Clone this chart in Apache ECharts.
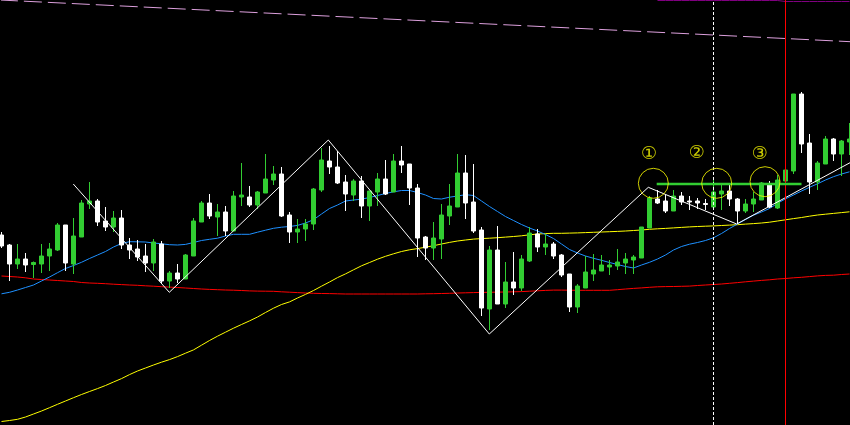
<!DOCTYPE html>
<html><head><meta charset="utf-8">
<script src="https://cdn.jsdelivr.net/npm/echarts@6/dist/echarts.min.js"></script>
<style>html,body{margin:0;padding:0;background:#000;overflow:hidden}#c{width:850px;height:425px}</style>
</head><body><div id="c"></div>
<script>
// Candle prices (arbitrary price units)
const openP = [190,180,161,166,160.5,161,169,175,200,161,
188,221,224,204,198,207,180,176,169,162,
181,144,152,146,169,203,222,208,213,194,
228,228,220,232,245,251,210,193,196,201,
235,264,258,243,230,244,219,233,246,233,
264,261,237,188,177,186,209,218,252,223,
195,116,175,121,143,137,164,191,178,181,
170,151,118,137,151,154,158,159,162,165,
167,197,226,224,214,229,224,224,221.5,218,
231,234,226,214,221,225,240,217,244,254,
331,282,243,261,286,271,283];
const closeP = [179,161,166,160,162.5,169,176,200,162,189,
222,224,203,198,207,180,175,168,162,183,
144,152,146,170,204,222,209,213,194,229,
230,220,233,246,251,209,193,196,201,236,
265,258,242,231,244,219,234,246,231,264,
260,237,187,177,187,210,219,252,222,194,
117,175,121,143,137,166,192,178,181,169,
150,118,139,153,155,160,160,163,166,168,
198,227,222,214,229,223,223,222,220.5,233,
234,226,214,221,226,242,218,245,255,331,
281,243,262,286,271,284,286];
const lowP = [177,144,156,153,147,152,154,174,154,151,
188,216,199,194,193,176,166,164,153,154,
141,137,142,146,169,203,206,189,189,194,
219,218,216,232,240,208,182,182,184,195,
233,251,241,214,224,207,204,219,230,233,
252,220,168,165,165,166,200,218,206,192,
109,95,121,117,130,134,163,173,170,166,
148,113,112,137,144,154,150,155,151,151,
167,197,221,212,214,220,215,216,215,218,
215,219,201,212,213,225,217,216,244,251,
272,231,235,261,264,249,270];
const highP = [193,181,181,172,163.5,181,182,202,200,207,
225,243,226,218,214,215,187,185,181,186,
184,154,161,171,207,224,231,221,219,234,
262,239,234,271,259,258,213,206,206,237,
277,279,274,250,246,249,234,252,265,271,
279,261,241,189,203,221,241,271,270,261,
198,179,199,163,173,170,198,196,191,183,
171,151,141,169,171,170,165,176,172,170,
198,229,235,230,235,233,229,227,226,245,
240,240,227,226,233,243,244,250,255,331,
333,291,264,289,287,285,302];

// Moving averages read per candle
const maBlue = [131.2,132.7,135,137.5,140,144,148,152.3,156.5,159.5,
162.7,166.5,170,173.5,178,181.5,183.3,183.2,183,182,
181.2,180.3,180,180.6,182.5,184.5,185.7,186.8,189,190.7,
190.7,190.7,192.8,194.8,196.7,197.8,198.5,199.6,202,205.3,
211,216.5,220,224,225,225.8,227.5,229.5,231.5,233.2,
234.5,234.5,232.5,230,226.5,226,227.8,229,230.3,229.5,
224,218.5,213.5,208.5,204.5,200.5,197,194,190.5,186.5,
181,175.5,172,169,166.7,164.7,162.5,160.5,158.5,157,
160,162.7,166,170,175,178.5,180.8,182.5,184.5,187.2,
191.5,196.5,201,205.5,209.8,213,216.5,221.7,226.2,230,
234,237.7,241.2,245,248.3,251,253.2];
const maYellow = [3.5,4.5,5.7,8,11,14,17.3,20.7,24,27.3,
30.5,33.5,36.4,39.5,43,46.4,50.4,54,57,60,
62.8,65.4,68.4,71.8,75.1,79.8,84.5,88.8,92.8,96.8,
100.5,104.1,108,112.5,116.8,120.5,123.1,127,130.6,134.5,
138.8,143,147.4,151.1,155.2,159.2,162.5,165.8,168.7,171.2,
173.5,175.2,176.4,177.8,179.3,181,182.6,184,185,185.9,
186.4,186.8,187.3,187.9,188.5,189.2,190.2,191,191.4,191.7,
191.7,191.9,192.1,192.4,192.7,193,193.3,193.6,194,194.5,
195,195.7,196.2,196.6,197.1,197.6,198.1,198.5,198.8,199.1,
199.5,199.9,200.3,200.9,201.4,202,202.8,204,205.2,206.4,
207.5,208.8,210,210.8,211.6,212.4,213.2];
const maRed = [149,148.5,148,147.2,146,145.5,145,144.5,144,143.5,
142.5,142,141.7,141.3,140.8,140.4,140,139.7,139.2,138.8,
138.3,137.9,137.5,137,136.5,136,135.6,135.3,135,134.8,
134.5,134.1,133.9,133.8,133.7,133.2,132.8,132.4,132,131.7,
131.5,131.4,131.2,131,131,131,131,131,131,131,
131,131,131,131.2,131.3,131.5,131.7,132,132.2,132.4,
132.6,132.7,132.9,133,133.2,133.4,133.8,134.2,134.6,134.9,
134.9,134.8,134.7,134.7,134.7,134.7,134.7,135.3,136,136.6,
137.1,137.7,138.2,138.4,138.5,138.7,138.9,139.5,140,140.5,
141,141.7,142.4,143.2,143.9,144.6,145.2,146,146.5,147.2,
147.7,148.4,149.1,149.6,149.8,150.5,151];
// upper band visible only from candle 82 onward
const upperBandStart = 82;
const upperBandVisible = [424.5,424.5,424.5,424.5,424.5,424.5,424.5,424.5,424.5,424.5,424.5,424.5,424.5,424.5,424.5,424.5,
423.5,423.5,423.5,423.5,423.5,423.5,423.5,423.5,423.5];

// Drawn objects (x in candle index units, y in price units)
const zigzagIdx = [8.975,20.975,40.85,60.975,80.85,91.9,106.3];
const zigzagVal = [241,132.7,285,91,237.7,201,263.3];
const trendIdx = [-0.2,106.1];
const trendVal = [425,383.3];
const levelIdx = [81.9,100.0];
const levelVal = [241,241];
const circleIdx = [81.48,89.4,95.44];
const circleVal = [241.7,241.7,243.3];
const labelIdx = [80.94,86.9,94.8];
const labelVal = [271,271.7,270.7];
const labelText = ['①','②','③'];
const vDashedIdx = 89;
const vRedIdx = 98;

const cats = openP.map((_, i) => String(i));
const ohlc = openP.map((o, i) => [o, closeP[i], lowP[i], highP[i]]);
const upperBand = cats.map((_, i) => i >= upperBandStart ? upperBandVisible[i - upperBandStart] : null);
const pairs = (xs, ys) => xs.map((x, i) => [x, ys[i]]);

const chart = echarts.init(document.getElementById('c'), null, {renderer: 'canvas'});
chart.setOption({
  backgroundColor: '#000000',
  animation: false,
  grid: {left: 1.5, top: 0, right: 0.5, bottom: 0, containLabel: false},
  xAxis: [
    {type: 'category', data: cats, show: false, boundaryGap: false},
    {type: 'value', min: 0, max: 106, show: false}
  ],
  yAxis: {type: 'value', min: 0, max: 425, show: false, splitLine: {show: false}},
  series: [
    {type: 'line', data: maRed, showSymbol: false, lineStyle: {color: '#ff0000', width: 1}, z: 1},
    {type: 'line', data: maYellow, showSymbol: false, lineStyle: {color: '#ffff00', width: 1}, z: 1},
    {type: 'line', data: maBlue, showSymbol: false, lineStyle: {color: '#1e90ff', width: 1}, z: 1},
    {type: 'line', data: upperBand, showSymbol: false, connectNulls: false, lineStyle: {color: '#800080', width: 1}, z: 1},
    {type: 'line', xAxisIndex: 1, data: pairs(trendIdx, trendVal), showSymbol: false, clip: false,
      lineStyle: {color: '#dda0dd', width: 1, type: [18, 6]}, z: 1},
    {type: 'candlestick', data: ohlc, barWidth: 4, z: 3,
      itemStyle: {color: '#32cd32', color0: '#ffffff', borderColor: '#32cd32', borderColor0: '#ffffff', borderWidth: 1}},
    {type: 'line', xAxisIndex: 1, data: pairs(zigzagIdx, zigzagVal), showSymbol: false, clip: false, z: 4,
      lineStyle: {color: '#ffffff', width: 1},
      markLine: {symbol: 'none', silent: true, label: {show: false},
        data: [
          {xAxis: vDashedIdx, lineStyle: {color: '#ffffff', width: 1, type: [3, 2]}},
          {xAxis: vRedIdx, lineStyle: {color: '#ff0000', width: 1, type: 'solid'}}
        ]}},
    {type: 'line', xAxisIndex: 1, data: pairs(levelIdx, levelVal), showSymbol: false, z: 5,
      lineStyle: {color: '#32cd32', width: 2.5}},
    {type: 'scatter', xAxisIndex: 1, data: pairs(circleIdx, circleVal), symbol: 'circle', symbolSize: 30, z: 6,
      itemStyle: {color: 'rgba(0,0,0,0)', borderColor: '#ffff00', borderWidth: 1}},
    {type: 'scatter', xAxisIndex: 1, data: pairs(labelIdx, labelVal), symbolSize: 1, z: 6,
      itemStyle: {color: 'rgba(0,0,0,0)'},
      label: {show: true, position: 'inside', formatter: p => labelText[p.dataIndex],
        color: '#ffff00', fontSize: 18, fontFamily: 'DejaVu Sans'}}
  ]
});
</script>
</body></html>
